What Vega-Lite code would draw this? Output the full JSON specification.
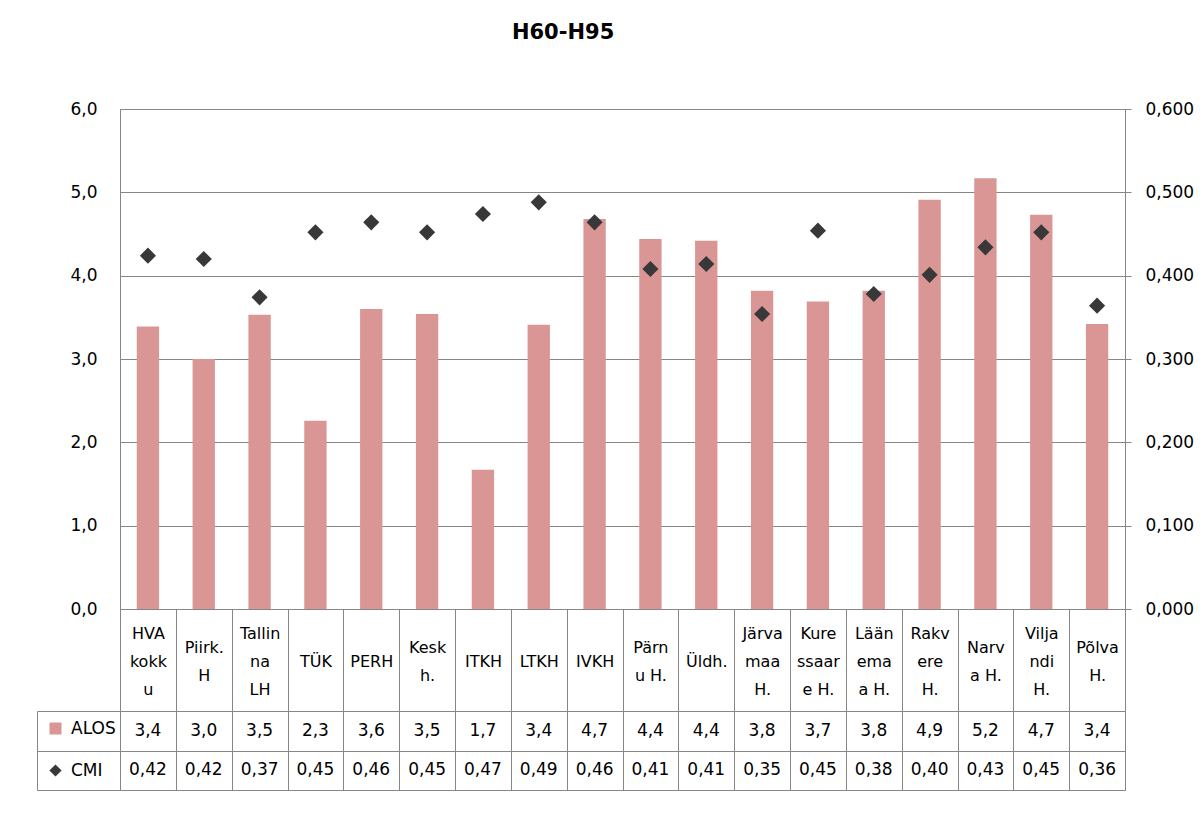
{
 "$schema": "https://vega.github.io/schema/vega-lite/v6.json",
 "padding": {"left": 36, "top": 21, "right": 4, "bottom": 4},
 "background": "white",
 "config": {
  "locale": {"number": {"decimal": ",", "thousands": " ", "grouping": [3], "currency": ["", " €"]}},
  "font": "DejaVu Sans",
  "view": {"stroke": "#868686"},
  "axis": {"labelFont": "DejaVu Sans", "labelFontSize": 17, "labelColor": "#000000", "domainColor": "#868686", "tickColor": "#868686", "gridColor": "#868686", "gridOpacity": 1, "title": null},
  "legend": {"labelFont": "DejaVu Sans", "labelFontSize": 17, "labelColor": "#000000", "padding": 0, "labelOffset": 7}
 },
 "title": {"text": "H60-H95", "fontSize": 21, "fontWeight": "bold", "font": "DejaVu Sans", "color": "#000000", "anchor": "middle", "offset": 57, "dx": -52},
 "data": {"values": [
  {"h": "HVA|kokk|u", "ALOS": 3.39, "CMI": 0.424},
  {"h": "Piirk.|H", "ALOS": 3.00, "CMI": 0.420},
  {"h": "Tallin|na|LH", "ALOS": 3.53, "CMI": 0.374},
  {"h": "TÜK", "ALOS": 2.26, "CMI": 0.452},
  {"h": "PERH", "ALOS": 3.60, "CMI": 0.464},
  {"h": "Kesk|h.", "ALOS": 3.54, "CMI": 0.452},
  {"h": "ITKH", "ALOS": 1.67, "CMI": 0.474},
  {"h": "LTKH", "ALOS": 3.41, "CMI": 0.488},
  {"h": "IVKH", "ALOS": 4.68, "CMI": 0.464},
  {"h": "Pärn|u H.", "ALOS": 4.44, "CMI": 0.408},
  {"h": "Üldh.", "ALOS": 4.42, "CMI": 0.414},
  {"h": "Järva|maa|H.", "ALOS": 3.82, "CMI": 0.354},
  {"h": "Kure|ssaar|e H.", "ALOS": 3.69, "CMI": 0.454},
  {"h": "Lään|ema|a H.", "ALOS": 3.82, "CMI": 0.378},
  {"h": "Rakv|ere|H.", "ALOS": 4.91, "CMI": 0.401},
  {"h": "Narv|a H.", "ALOS": 5.17, "CMI": 0.434},
  {"h": "Vilja|ndi|H.", "ALOS": 4.73, "CMI": 0.452},
  {"h": "Põlva|H.", "ALOS": 3.42, "CMI": 0.364}
 ]},
 "spacing": 102,
 "bounds": "flush",
 "vconcat": [
  {
   "width": 1005,
   "height": 500,
   "layer": [
    {
     "mark": {"type": "bar", "color": "#D99694", "width": {"band": 0.4}},
     "encoding": {
      "x": {"field": "h", "type": "nominal", "sort": null,
            "scale": {"type": "band", "paddingInner": 0, "paddingOuter": 0},
            "axis": {"labelExpr": "split(datum.label, '|')",
                     "labelPadding": {"condition": [{"test": "length(split(datum.value, '|')) == 1", "value": -50}, {"test": "length(split(datum.value, '|')) == 2", "value": -64}], "value": -78},
                     "labelAngle": 0, "labelAlign": "center", "labelBaseline": "middle", "labelLineHeight": 28, "labelFontSize": 16, "tickBand": "extent", "tickSize": 102, "ticks": true, "domain": true, "grid": false, "labelLimit": 0}},
      "y": {"field": "ALOS", "type": "quantitative", "scale": {"domain": [0, 6]},
            "axis": {"values": [0, 1, 2, 3, 4, 5, 6], "format": ".1f", "grid": true, "ticks": false, "labelPadding": 23, "domain": true}},
      "color": {"datum": "ALOS", "type": "nominal", "scale": {"range": ["#D99694"]},
                "legend": {"orient": "none", "legendX": -73, "legendY": 611, "title": null, "symbolType": "square", "symbolSize": 144, "symbolStrokeWidth": 0}}
     }
    },
    {
     "mark": {"type": "point", "filled": true, "color": "#383838", "size": 260, "opacity": 1},
     "encoding": {
      "x": {"field": "h", "type": "nominal", "sort": null},
      "y": {"field": "CMI", "type": "quantitative", "scale": {"domain": [0, 0.6]},
            "axis": {"orient": "right", "values": [0, 0.1, 0.2, 0.3, 0.4, 0.5, 0.6], "format": ".3f", "grid": false, "ticks": true, "tickSize": 6, "labelPadding": 14, "domain": true}},
      "shape": {"datum": "CMI", "type": "nominal", "scale": {"range": ["diamond"]},
                "legend": {"orient": "none", "legendX": -73, "legendY": 653, "title": null, "symbolSize": 150, "symbolFillColor": "#383838", "symbolStrokeColor": "#383838"}}
     }
    }
   ],
   "resolve": {"scale": {"y": "independent"}}
  },
  {
   "width": 1005,
   "height": 79,
   "layer": [
    {
     "mark": {"type": "text", "fontSize": 17, "color": "#000000", "baseline": "middle", "font": "DejaVu Sans"},
     "encoding": {
      "x": {"field": "h", "type": "nominal", "sort": null,
            "scale": {"type": "band", "paddingInner": 0, "paddingOuter": 0},
            "axis": {"orient": "top", "labels": false, "ticks": false, "domain": false, "grid": true, "tickBand": "extent"}},
      "y": {"datum": "ALOS", "type": "nominal",
            "scale": {"type": "band", "domain": ["ALOS", "CMI"], "paddingInner": 0, "paddingOuter": 0},
            "axis": {"orient": "left", "labels": false, "offset": 83, "tickSize": -83, "tickBand": "extent", "grid": true, "domain": true}},
      "text": {"field": "ALOS", "type": "quantitative", "format": ".1f"}
     }
    },
    {
     "mark": {"type": "text", "fontSize": 17, "color": "#000000", "baseline": "middle", "font": "DejaVu Sans"},
     "encoding": {
      "x": {"field": "h", "type": "nominal", "sort": null},
      "y": {"datum": "CMI", "type": "nominal"},
      "text": {"field": "CMI", "type": "quantitative", "format": ".2f"}
     }
    }
   ]
  }
 ]
}
